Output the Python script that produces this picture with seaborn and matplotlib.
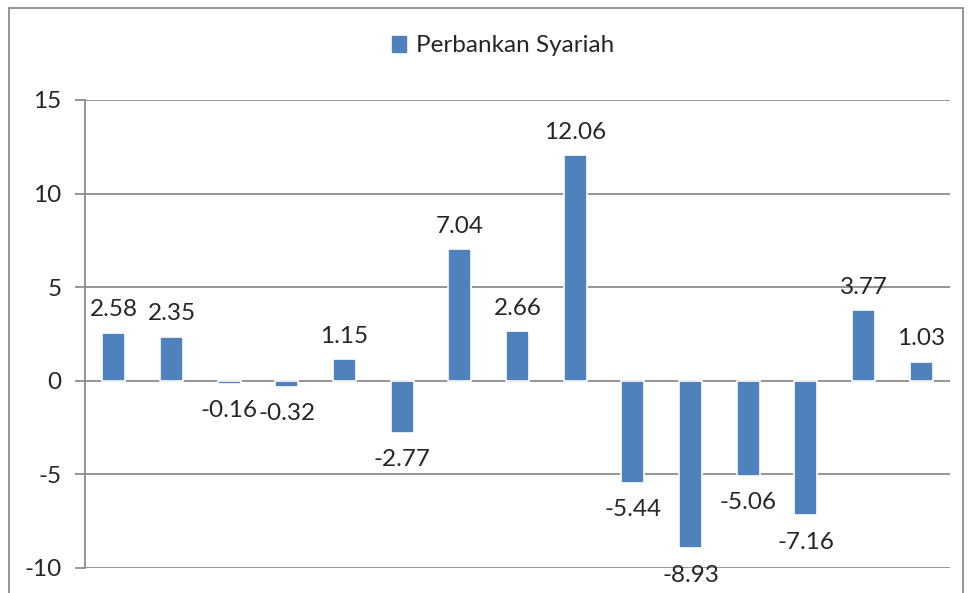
import matplotlib
matplotlib.use("Agg")
import matplotlib.pyplot as plt
import seaborn as sns
import pandas as pd
from matplotlib.patches import Rectangle

categories = [f"P{i}" for i in range(1, 16)]
values = [2.58, 2.35, -0.16, -0.32, 1.15, -2.77, 7.04, 2.66, 12.06,
          -5.44, -8.93, -5.06, -7.16, 3.77, 1.03]
labels = ["2.58", "2.35", "-0.16", "-0.32", "1.15", "-2.77", "7.04", "2.66",
          "12.06", "-5.44", "-8.93", "-5.06", "-7.16", "3.77", "1.03"]
series_name = "Perbankan Syariah"
yticks = [-10, -5, 0, 5, 10, 15]

sns.set_theme(style="white")
plt.rcParams['font.family'] = ['Lato', 'DejaVu Sans']
FS = 17.5

df = pd.DataFrame({"cat": categories, "val": values})

fig = plt.figure(figsize=(9.71, 5.93), dpi=100)
ax = fig.add_axes([85/971, 1 - 568/593, (950-85)/971, (568-100)/593])

bar_color = "#4F81BD"
sns.barplot(data=df, x="cat", y="val", color=bar_color, saturation=1,
            width=0.40, edgecolor="white", linewidth=1.2, ax=ax)

ax.set_ylim(-10, 15)
ax.set_xlim(-0.5, 14.5)
ax.set_yticks(yticks)
ax.set_yticklabels([str(t) for t in yticks], fontsize=FS)
ax.set_xticks([])
ax.set_xlabel("")
ax.set_ylabel("")
for y in yticks:
    ax.axhline(y, color="#8C8C8C", linewidth=1.3, zorder=0)
for s in ["top", "right", "bottom"]:
    ax.spines[s].set_visible(False)
ax.spines["left"].set_color("#8C8C8C")
ax.spines["left"].set_linewidth(1.3)
ax.tick_params(axis="y", length=7, width=1.3, color="#8C8C8C", pad=10,
               left=True, labelsize=FS)

for i, (v, lab) in enumerate(zip(values, labels)):
    if v >= 0:
        ax.annotate(lab, (i, v), xytext=(0, 9), textcoords="offset points",
                    ha="center", va="bottom", fontsize=FS)
    else:
        ax.annotate(lab, (i, v), xytext=(0, -12), textcoords="offset points",
                    ha="center", va="top", fontsize=FS)

# legend
handle = Rectangle((0, 0), 1, 1, color=bar_color)
fig.legend([handle], [series_name], loc="center", bbox_to_anchor=(503/971, 1 - 46/593),
           frameon=False, fontsize=FS, handlelength=0.6, handleheight=0.6,
           handletextpad=0.4)

# outer border
fig.patches.append(Rectangle((9/971, -0.05), (963-9)/971, 1.05 - 8/593,
                             transform=fig.transFigure, fill=False,
                             edgecolor="#8C8C8C", linewidth=1.3))

fig.savefig("out.png", dpi=100, facecolor="white")
